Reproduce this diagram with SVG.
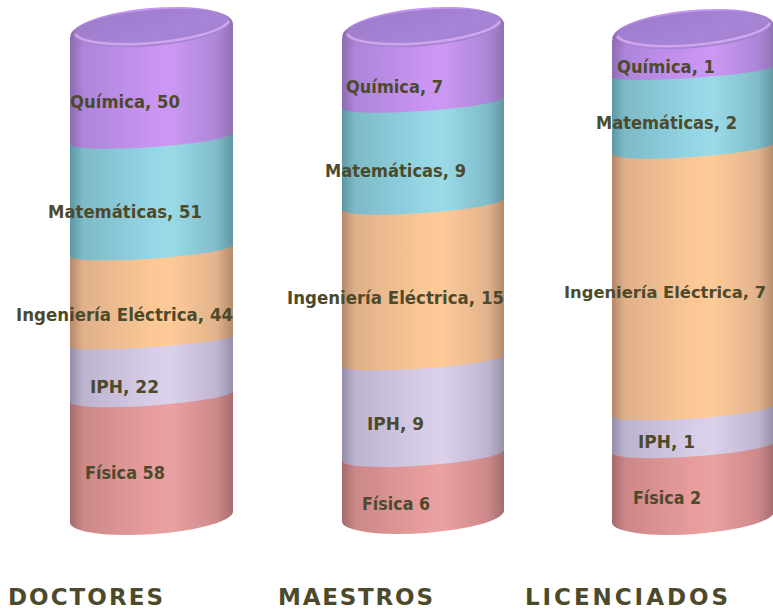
<svg xmlns="http://www.w3.org/2000/svg" width="773" height="612" viewBox="0 0 773 612">
<defs>
<linearGradient id="gPur" x1="0" y1="0" x2="1" y2="0">
<stop offset="0" stop-color="#8a6bb0"/><stop offset="0.08" stop-color="#ad85da"/><stop offset="0.5" stop-color="#c994f2"/><stop offset="0.62" stop-color="#cc98f4"/><stop offset="0.9" stop-color="#ad85d8"/><stop offset="1" stop-color="#8f72b2"/>
</linearGradient>
<linearGradient id="gTeal" x1="0" y1="0" x2="1" y2="0">
<stop offset="0" stop-color="#5e97a3"/><stop offset="0.08" stop-color="#7dbac8"/><stop offset="0.5" stop-color="#95d6e4"/><stop offset="0.62" stop-color="#9bdbe8"/><stop offset="0.9" stop-color="#7fbccb"/><stop offset="1" stop-color="#6196a2"/>
</linearGradient>
<linearGradient id="gOra" x1="0" y1="0" x2="1" y2="0">
<stop offset="0" stop-color="#b3876a"/><stop offset="0.08" stop-color="#e0b08a"/><stop offset="0.5" stop-color="#fbc795"/><stop offset="0.62" stop-color="#fdca98"/><stop offset="0.9" stop-color="#e2b38c"/><stop offset="1" stop-color="#b48a6c"/>
</linearGradient>
<linearGradient id="gLav" x1="0" y1="0" x2="1" y2="0">
<stop offset="0" stop-color="#958da8"/><stop offset="0.08" stop-color="#bdb3cf"/><stop offset="0.5" stop-color="#d8cde8"/><stop offset="0.62" stop-color="#dbd1ea"/><stop offset="0.9" stop-color="#bfb5d0"/><stop offset="1" stop-color="#988fa9"/>
</linearGradient>
<linearGradient id="gPink" x1="0" y1="0" x2="1" y2="0">
<stop offset="0" stop-color="#a46a6c"/><stop offset="0.08" stop-color="#cc8788"/><stop offset="0.5" stop-color="#e89d9d"/><stop offset="0.62" stop-color="#eaa1a1"/><stop offset="0.9" stop-color="#cd898a"/><stop offset="1" stop-color="#a56c6e"/>
</linearGradient>
<linearGradient id="gFace" x1="0" y1="0" x2="1" y2="1">
<stop offset="0" stop-color="#9c7ccb"/><stop offset="0.6" stop-color="#a684d6"/><stop offset="1" stop-color="#a283d2"/>
</linearGradient>
</defs>
<style>
.lbl{font-family:"DejaVu Sans","Liberation Sans",sans-serif;font-weight:bold;font-size:18px;fill:#4d4a2c}
.ttl{font-family:"DejaVu Sans","Liberation Sans",sans-serif;font-weight:bold;font-size:23px;fill:#4d4a2c}
.face{fill:url(#gFace)}
.rim{fill:none;stroke:#e3b3f7;stroke-width:2.5;stroke-opacity:0.7}
</style>

<g id="doctores">
<g id="d-fisica"><path d="M70,399 L233,388 L233,511 A81 17 -4 0 1 70,523 Z" fill="url(#gPink)"/></g>
<g id="d-iph"><path d="M70,343 L233,333 L233,391 A81 9 -4 0 1 70,402 Z" fill="url(#gLav)"/></g>
<g id="d-ing"><path d="M70,253 L233,242 L233,336 A81 6 -4 0 1 70,346 Z" fill="url(#gOra)"/></g>
<g id="d-mat"><path d="M70,141 L233,130 L233,245 A81 8 -4 0 1 70,256 Z" fill="url(#gTeal)"/></g>
<g id="d-quim"><path d="M70,37 L233,23 L233,133 A81 8.5 -4 0 1 70,144 Z" fill="url(#gPur)"/>
<ellipse cx="151.5" cy="30" rx="81.5" ry="22" transform="rotate(-5 151.5 30)" fill="url(#gPur)"/>
<ellipse cx="152" cy="28" rx="78" ry="18" transform="rotate(-5 152 28)" class="face"/>
<path d="M75,34 A78 18 -5 0 0 229,21" class="rim"/>
</g>
</g>

<g id="maestros">
<g id="m-fisica"><path d="M342,458 L504,447 L504,510 A81 17 -4 0 1 342,522 Z" fill="url(#gPink)"/></g>
<g id="m-iph"><path d="M342,363 L504,352 L504,450 A81 10 -4 0 1 342,461 Z" fill="url(#gLav)"/></g>
<g id="m-ing"><path d="M342,207 L504,195 L504,355 A81 8 -4 0 1 342,366 Z" fill="url(#gOra)"/></g>
<g id="m-mat"><path d="M342,105 L504,94 L504,198 A81 9 -4 0 1 342,210 Z" fill="url(#gTeal)"/></g>
<g id="m-quim"><path d="M342,38 L504,22 L504,97 A81 8.5 -4 0 1 342,108 Z" fill="url(#gPur)"/>
<ellipse cx="423" cy="30" rx="81" ry="22" transform="rotate(-5 423 30)" fill="url(#gPur)"/>
<ellipse cx="424" cy="28" rx="77.5" ry="18" transform="rotate(-5 424 28)" class="face"/>
<path d="M347,34 A77.5 18 -5 0 0 500,21" class="rim"/>
</g>
</g>

<g id="licenciados">
<g id="l-fisica"><path d="M612,450 L774,439 L774,511 A81 17 -4 0 1 612,523 Z" fill="url(#gPink)"/></g>
<g id="l-iph"><path d="M612,413 L774,402 L774,442 A81 9 -4 0 1 612,453 Z" fill="url(#gLav)"/></g>
<g id="l-ing"><path d="M612,151 L774,139 L774,405 A81 8 -4 0 1 612,416 Z" fill="url(#gOra)"/></g>
<g id="l-mat"><path d="M612,73 L774,63 L774,142 A81 9 -4 0 1 612,154 Z" fill="url(#gTeal)"/></g>
<g id="l-quim"><path d="M612,40 L774,24 L774,66 A81 7 -4 0 1 612,76 Z" fill="url(#gPur)"/>
<ellipse cx="693" cy="32" rx="81" ry="22" transform="rotate(-5 693 32)" fill="url(#gPur)"/>
<ellipse cx="694" cy="30" rx="77.5" ry="18" transform="rotate(-5 694 30)" class="face"/>
<path d="M617,36 A77.5 18 -5 0 0 770,23" class="rim"/>
</g>
</g>

<g id="labels">
<text class="lbl" x="70" y="108" textLength="110" lengthAdjust="spacingAndGlyphs">Química, 50</text>
<text class="lbl" x="48" y="218" textLength="154" lengthAdjust="spacingAndGlyphs">Matemáticas, 51</text>
<text class="lbl" x="16" y="321" textLength="217" lengthAdjust="spacingAndGlyphs">Ingeniería Eléctrica, 44</text>
<text class="lbl" x="90" y="393" textLength="69" lengthAdjust="spacingAndGlyphs">IPH, 22</text>
<text class="lbl" x="85" y="479" textLength="80" lengthAdjust="spacingAndGlyphs">Física 58</text>

<text class="lbl" x="346" y="93" textLength="97" lengthAdjust="spacingAndGlyphs">Química, 7</text>
<text class="lbl" x="325" y="177" textLength="141" lengthAdjust="spacingAndGlyphs">Matemáticas, 9</text>
<text class="lbl" x="287" y="304" textLength="217" lengthAdjust="spacingAndGlyphs">Ingeniería Eléctrica, 15</text>
<text class="lbl" x="367" y="430" textLength="57" lengthAdjust="spacingAndGlyphs">IPH, 9</text>
<text class="lbl" x="362" y="510" textLength="68" lengthAdjust="spacingAndGlyphs">Física 6</text>

<text class="lbl" x="617" y="73" textLength="98" lengthAdjust="spacingAndGlyphs">Química, 1</text>
<text class="lbl" x="596" y="129" textLength="141" lengthAdjust="spacingAndGlyphs">Matemáticas, 2</text>
<text class="lbl" x="564" y="298" textLength="202" lengthAdjust="spacingAndGlyphs" style="font-size:15.5px">Ingeniería Eléctrica, 7</text>
<text class="lbl" x="638" y="448" textLength="57" lengthAdjust="spacingAndGlyphs">IPH, 1</text>
<text class="lbl" x="633" y="504" textLength="68" lengthAdjust="spacingAndGlyphs">Física 2</text>
</g>

<g id="titles">
<text class="ttl" x="8" y="605" textLength="155">DOCTORES</text>
<text class="ttl" x="278" y="605" textLength="155">MAESTROS</text>
<text class="ttl" x="525" y="605" textLength="203">LICENCIADOS</text>
</g>
</svg>
